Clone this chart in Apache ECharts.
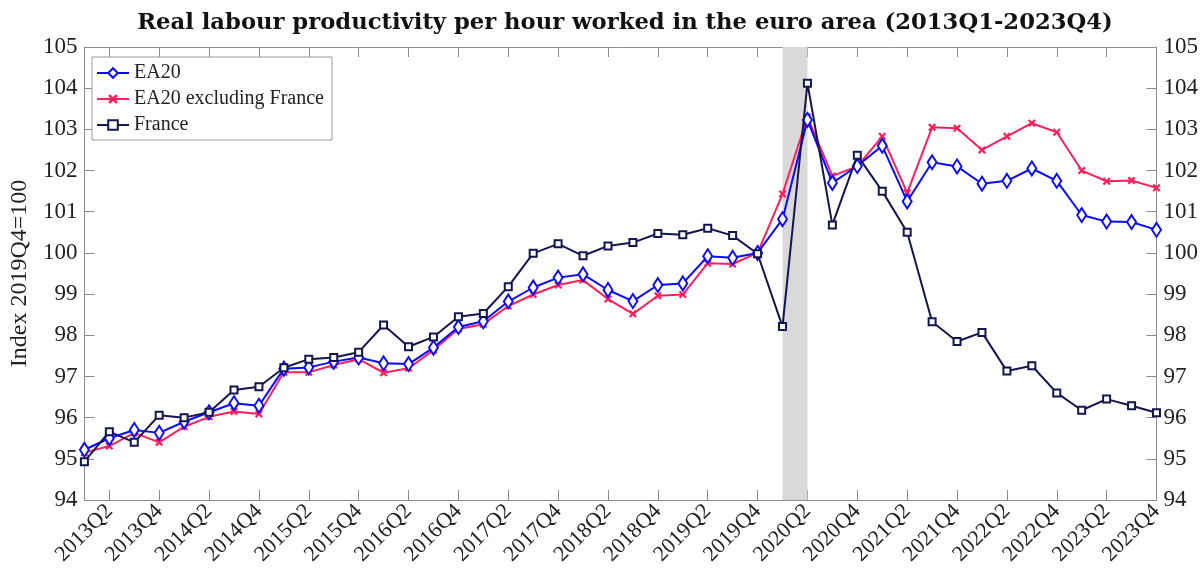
<!DOCTYPE html>
<html>
<head>
<meta charset="utf-8">
<script src="https://cdn.jsdelivr.net/npm/echarts@6/dist/echarts.min.js"></script>
<style>
  html, body { margin: 0; padding: 0; background: #fff; }
  #chart { width: 1201px; height: 577px; }
</style>
</head>
<body>
<div id="chart"></div>
<script>
// quarters 2013Q1..2023Q4
const quarters = []
for (let y = 2013; y <= 2023; y++) {
  for (let q = 1; q <= 4; q++) quarters.push(y + 'Q' + q)
}

const ea20 = [
  95.22, 95.5, 95.7, 95.63, 95.9, 96.13, 96.35, 96.29,
  97.19, 97.22, 97.36, 97.46, 97.32, 97.3, 97.7, 98.2,
  98.34, 98.82, 99.16, 99.4, 99.48, 99.1, 98.83, 99.22,
  99.26, 99.92, 99.88, 100.0, 100.82, 103.23, 101.7, 102.11,
  102.6, 101.25, 102.2, 102.1, 101.68, 101.75, 102.05, 101.75,
  100.92, 100.76, 100.75, 100.56,
]
const ea20exFr = [
  95.15, 95.31, 95.63, 95.4, 95.78, 96.02, 96.15, 96.09,
  97.1, 97.1, 97.28, 97.42, 97.09, 97.2, 97.64, 98.15,
  98.27, 98.71, 98.99, 99.22, 99.34, 98.88, 98.52, 98.96,
  98.99, 99.75, 99.73, 100.0, 101.43, 103.3, 101.87, 102.1,
  102.83, 101.46, 103.05, 103.03, 102.5, 102.83, 103.15, 102.93,
  102.0, 101.74, 101.76, 101.58,
]
const france = [
  94.93, 95.66, 95.4, 96.06, 96.0, 96.13, 96.67, 96.75,
  97.21, 97.42, 97.46, 97.59, 98.25, 97.72, 97.96, 98.45,
  98.53, 99.18, 99.99, 100.22, 99.93, 100.17, 100.25, 100.47,
  100.44, 100.6, 100.42, 99.98, 98.21, 104.12, 100.68, 102.37,
  101.5, 100.5, 98.33, 97.85, 98.07, 97.13, 97.26, 96.6,
  96.18, 96.45, 96.29, 96.12,
]
const covidBand = ['2020Q1', '2020Q2']

const serif = '"Liberation Serif", "DejaVu Serif", serif'
const axisGrey = '#8c8c8c'
const crossPath = 'path://M2,0 L5,3 L8,0 L10,2 L7,5 L10,8 L8,10 L5,7 L2,10 L0,8 L3,5 L0,2 Z'
const oddTick = (idx) => idx % 2 === 1

const chart = echarts.init(document.getElementById('chart'))

const yAxisBase = {
  type: 'value',
  min: 94,
  max: 105,
  interval: 1,
  splitLine: { show: false },
  axisLine: { show: true, lineStyle: { color: axisGrey } },
  axisTick: { show: true, inside: true, length: 10, lineStyle: { color: axisGrey } },
  axisLabel: { color: '#222', fontFamily: serif, fontSize: 23, margin: 7 },
}

chart.setOption({
  animation: false,
  title: {
    text: 'Real labour productivity per hour worked in the euro area (2013Q1-2023Q4)',
    left: 620,
    textAlign: 'center',
    top: 7,
    textStyle: { fontFamily: '"DejaVu Serif", serif', fontWeight: 'bold', fontSize: 22.7, color: '#111' },
  },
  grid: { left: 83, right: 43, top: 47, bottom: 77 },
  legend: {
    orient: 'vertical',
    left: 92,
    top: 57,
    itemWidth: 32,
    itemHeight: 12,
    itemGap: 6,
    padding: [6, 8, 5, 4],
    borderColor: '#999',
    borderWidth: 1,
    backgroundColor: '#fff',
    textStyle: { fontFamily: serif, fontSize: 20, color: '#222' },
    data: ['EA20', 'EA20 excluding France', 'France'],
  },
  xAxis: [
    {
      type: 'category',
      data: quarters,
      boundaryGap: false,
      axisLine: { show: true, onZero: false, lineStyle: { color: axisGrey } },
      axisTick: { show: true, inside: true, length: 10, interval: oddTick, lineStyle: { color: axisGrey } },
      axisLabel: { interval: oddTick, rotate: 45, color: '#222', fontFamily: serif, fontSize: 22, margin: 8 },
      splitLine: { show: false },
    },
    {
      type: 'category',
      data: quarters,
      position: 'top',
      boundaryGap: false,
      axisLine: { show: true, onZero: false, lineStyle: { color: axisGrey } },
      axisTick: { show: true, inside: true, length: 10, interval: oddTick, lineStyle: { color: axisGrey } },
      axisLabel: { show: false },
      splitLine: { show: false },
    },
  ],
  yAxis: [
    Object.assign({}, yAxisBase, {
      position: 'left',
      name: 'Index 2019Q4=100',
      nameLocation: 'middle',
      nameGap: 52,
      nameTextStyle: { fontFamily: serif, fontSize: 24, color: '#222' },
    }),
    Object.assign({}, yAxisBase, { position: 'right' }),
  ],
  series: [
    {
      name: 'EA20',
      type: 'line',
      data: ea20,
      z: 4,
      symbol: 'emptyDiamond',
      symbolSize: [9, 14],
      lineStyle: { color: '#0a0aff', width: 2 },
      itemStyle: { color: '#0a0aff', borderWidth: 2 },
      markArea: {
        silent: true,
        itemStyle: { color: '#d9d9d9' },
        data: [[{ xAxis: covidBand[0] }, { xAxis: covidBand[1] }]],
      },
    },
    {
      name: 'EA20 excluding France',
      type: 'line',
      data: ea20exFr,
      z: 3,
      symbol: crossPath,
      symbolSize: 8,
      lineStyle: { color: '#ff1f5a', width: 2 },
      itemStyle: { color: '#ff1f5a' },
    },
    {
      name: 'France',
      type: 'line',
      data: france,
      z: 5,
      symbol: 'emptyRect',
      symbolSize: 7,
      lineStyle: { color: '#15154f', width: 2 },
      itemStyle: { color: '#15154f', borderWidth: 2.5 },
    },
  ],
})
</script>
</body>
</html>
